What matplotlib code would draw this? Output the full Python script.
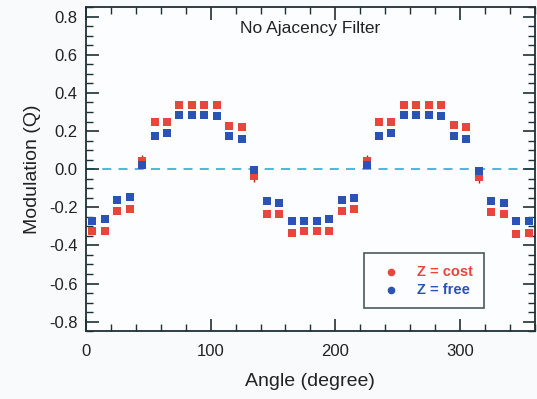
import numpy as np
import matplotlib
matplotlib.use("Agg")
import matplotlib.pyplot as plt
from matplotlib.ticker import MultipleLocator, FormatStrFormatter

plt.rcParams['font.family'] = ['Liberation Sans', 'DejaVu Sans']
plt.rcParams['axes.unicode_minus'] = False

angles = [5, 15, 25, 35, 45, 55, 65, 75, 85, 95, 105, 115, 125, 135, 145, 155, 165, 175,
          185, 195, 205, 215, 225, 235, 245, 255, 265, 275, 285, 295, 305, 315, 325, 335, 345, 355]
q_cost = [-0.325, -0.325, -0.219, -0.210, 0.045, 0.245, 0.250, 0.338, 0.338, 0.338, 0.335, 0.228, 0.220, -0.035,
          -0.233, -0.237, -0.333, -0.325, -0.325, -0.325, -0.219, -0.210, 0.045, 0.245, 0.250, 0.338,
          0.338, 0.338, 0.335, 0.230, 0.220, -0.040, -0.227, -0.237, -0.340, -0.333]
q_free = [-0.272, -0.263, -0.163, -0.146, 0.020, 0.175, 0.190, 0.284, 0.284, 0.282, 0.277, 0.175, 0.158, -0.006,
          -0.167, -0.179, -0.272, -0.270, -0.270, -0.263, -0.160, -0.149, 0.024, 0.175, 0.190, 0.284,
          0.284, 0.284, 0.277, 0.175, 0.158, -0.008, -0.167, -0.179, -0.272, -0.272]
err_cost = [0.015, 0.015, 0.015, 0.015, 0.03, 0.015, 0.015, 0.015, 0.015, 0.015, 0.015, 0.015, 0.015, 0.03,
            0.015, 0.015, 0.015, 0.015, 0.015, 0.015, 0.015, 0.015, 0.03, 0.015, 0.015, 0.015,
            0.015, 0.015, 0.015, 0.015, 0.015, 0.03, 0.015, 0.015, 0.015, 0.015]
err_free = [0.012] * 36

red = '#e8453c'
blue = '#2b52b5'
dark = '#1d3036'

fig = plt.figure(figsize=(5.37, 3.99), dpi=100)
fig.patch.set_facecolor('#f9fafc')
ax = fig.add_axes([0.160, 0.170, 0.836, 0.812])
ax.set_facecolor('#fcfdfe')

ax.axhline(0, color='#3ab4d6', lw=1.3, ls=(0, (5, 4)), zorder=1)

ax.errorbar(angles, q_cost, yerr=err_cost, fmt='s', color=red, ecolor='#b02020',
            ms=5.8, mew=0, elinewidth=1, capsize=2, zorder=3)
ax.errorbar(angles, q_free, yerr=err_free, fmt='s', color=blue, ecolor='#1a2f80',
            ms=5.8, mew=0, elinewidth=1, capsize=2, zorder=4)

ax.set_xlim(0, 360)
ax.set_ylim(-0.85, 0.85)
ax.xaxis.set_major_locator(MultipleLocator(100))
ax.xaxis.set_minor_locator(MultipleLocator(20))
ax.yaxis.set_major_locator(MultipleLocator(0.2))
ax.yaxis.set_minor_locator(MultipleLocator(0.05))
ax.yaxis.set_major_formatter(FormatStrFormatter('%.1f'))

ax.tick_params(which='both', direction='in', top=True, right=True, color=dark,
               labelcolor='#222222', labelsize=12)
ax.tick_params(which='major', length=9, width=1.2)
ax.tick_params(which='minor', length=5, width=1.0)
ax.tick_params(axis='x', which='major', pad=9)
ax.tick_params(axis='y', which='major', pad=6)
for s in ax.spines.values():
    s.set_color(dark)
    s.set_linewidth(1.3)

ax.set_xlabel('Angle (degree)', fontsize=14, color='#222222', labelpad=10)
ax.set_ylabel('Modulation (Q)', fontsize=14, color='#222222', labelpad=6)

ax.text(0.5, 0.957, 'No Ajacency Filter', transform=ax.transAxes, ha='center', va='top',
        fontsize=12.5, color='#222222')

h1 = ax.scatter([], [], marker='o', s=20, color=red)
h2 = ax.scatter([], [], marker='o', s=20, color=blue)
leg = ax.legend([h1, h2], ['Z = cost', 'Z = free'], loc='lower left',
                bbox_to_anchor=(0.619, 0.071), borderaxespad=0, frameon=True, fancybox=False,
                fontsize=10.5, handletextpad=0.7, borderpad=0.77, labelspacing=0.3,
                handlelength=2.2)
leg.get_frame().set_edgecolor(dark)
leg.get_frame().set_linewidth(1.2)
leg.get_frame().set_facecolor('#fcfdfe')
for t, c in zip(leg.get_texts(), [red, blue]):
    t.set_color(c)
    t.set_fontweight('bold')

fig.savefig('out.png', dpi=100, facecolor=fig.get_facecolor())
